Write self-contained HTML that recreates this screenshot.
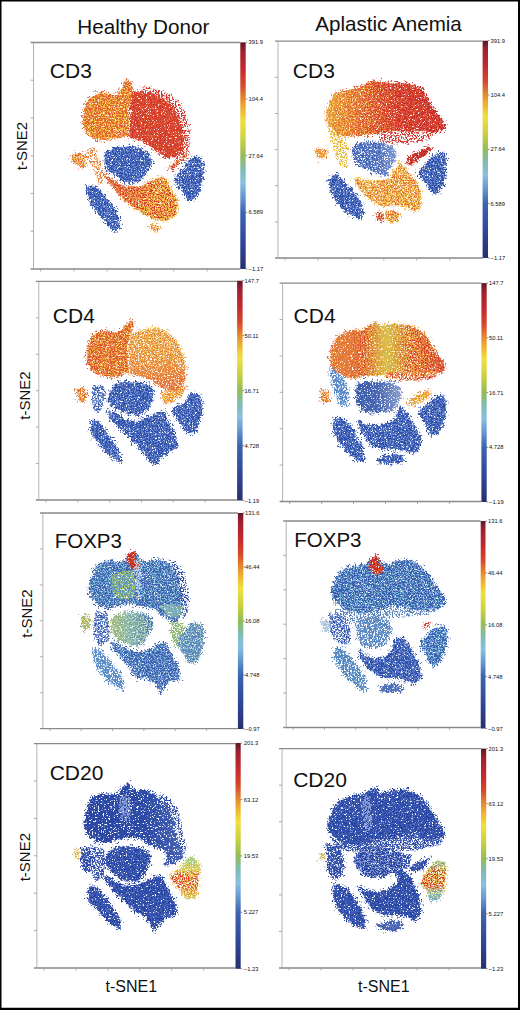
<!DOCTYPE html>
<html><head><meta charset="utf-8"><style>
html,body{margin:0;padding:0;background:#fff;}
body{width:520px;height:1010px;overflow:hidden;position:relative;}
svg{position:absolute;left:0;top:0;display:block;}
text{font-family:"Liberation Sans",sans-serif;fill:#111;}
</style></head><body>
<svg width="520" height="1010" viewBox="0 0 520 1010">
<defs>
<linearGradient id="cbar" x1="0" y1="1" x2="0" y2="0">
<stop offset="0" stop-color="#27306e"/>
<stop offset="0.12" stop-color="#2f4699"/>
<stop offset="0.25" stop-color="#3c64b0"/>
<stop offset="0.32" stop-color="#6898d0"/>
<stop offset="0.38" stop-color="#88c0e0"/>
<stop offset="0.44" stop-color="#80bcb4"/>
<stop offset="0.50" stop-color="#94bc58"/>
<stop offset="0.57" stop-color="#c8d040"/>
<stop offset="0.65" stop-color="#f0e040"/>
<stop offset="0.71" stop-color="#f0b030"/>
<stop offset="0.76" stop-color="#e48030"/>
<stop offset="0.81" stop-color="#d6482c"/>
<stop offset="0.88" stop-color="#c42a2e"/>
<stop offset="0.96" stop-color="#a02030"/>
<stop offset="1" stop-color="#5c1828"/>
</linearGradient>
<filter id="fD" x="0" y="0" width="520" height="1010" filterUnits="userSpaceOnUse" color-interpolation-filters="sRGB">
<feTurbulence type="fractalNoise" baseFrequency="0.3" numOctaves="2" seed="3" result="w"/>
<feDisplacementMap in="SourceGraphic" in2="w" scale="6" xChannelSelector="R" yChannelSelector="G" result="d"/>
<feTurbulence type="fractalNoise" baseFrequency="0.65" numOctaves="2" seed="11" result="n"/>
<feColorMatrix in="n" type="matrix" values="0 0 0 0 0  0 0 0 0 0  0 0 0 0 0  10 0 0 0 -3.3" result="m"/>
<feComposite in="d" in2="m" operator="in" result="c"/>
<feGaussianBlur in="c" stdDeviation="0.5"/>
</filter>
<filter id="fS" x="0" y="0" width="520" height="1010" filterUnits="userSpaceOnUse" color-interpolation-filters="sRGB">
<feTurbulence type="fractalNoise" baseFrequency="0.3" numOctaves="2" seed="5" result="w"/>
<feDisplacementMap in="SourceGraphic" in2="w" scale="6" xChannelSelector="R" yChannelSelector="G" result="d"/>
<feTurbulence type="fractalNoise" baseFrequency="0.65" numOctaves="2" seed="13" result="n"/>
<feColorMatrix in="n" type="matrix" values="0 0 0 0 0  0 0 0 0 0  0 0 0 0 0  10 0 0 0 -4.2" result="m"/>
<feComposite in="d" in2="m" operator="in" result="c"/>
<feGaussianBlur in="c" stdDeviation="0.5"/>
</filter>
<filter id="fH" x="0" y="0" width="520" height="1010" filterUnits="userSpaceOnUse" color-interpolation-filters="sRGB">
<feTurbulence type="fractalNoise" baseFrequency="0.3" numOctaves="2" seed="7" result="w"/>
<feDisplacementMap in="SourceGraphic" in2="w" scale="8" xChannelSelector="R" yChannelSelector="G" result="d"/>
<feTurbulence type="fractalNoise" baseFrequency="0.65" numOctaves="2" seed="17" result="n"/>
<feColorMatrix in="n" type="matrix" values="0 0 0 0 0  0 0 0 0 0  0 0 0 0 0  10 0 0 0 -5.2" result="m"/>
<feComposite in="d" in2="m" operator="in" result="c"/>
<feGaussianBlur in="c" stdDeviation="0.5"/>
</filter>
<filter id="fX" x="0" y="0" width="520" height="1010" filterUnits="userSpaceOnUse" color-interpolation-filters="sRGB">
<feTurbulence type="fractalNoise" baseFrequency="0.7" numOctaves="2" seed="23" result="n"/>
<feColorMatrix in="n" type="matrix" values="0 0 0 0 0  0 0 0 0 0  0 0 0 0 0  10 0 0 0 -5.0" result="m"/>
<feComposite in="SourceGraphic" in2="m" operator="in" result="c"/>
<feGaussianBlur in="c" stdDeviation="0.3"/>
</filter>
<filter id="fV" x="0" y="0" width="520" height="1010" filterUnits="userSpaceOnUse" color-interpolation-filters="sRGB">
<feTurbulence type="fractalNoise" baseFrequency="0.3" numOctaves="2" seed="9" result="w"/>
<feDisplacementMap in="SourceGraphic" in2="w" scale="6" xChannelSelector="R" yChannelSelector="G" result="d"/>
<feTurbulence type="fractalNoise" baseFrequency="0.65" numOctaves="2" seed="19" result="n"/>
<feColorMatrix in="n" type="matrix" values="0 0 0 0 0  0 0 0 0 0  0 0 0 0 0  10 0 0 0 -4.7" result="m"/>
<feComposite in="d" in2="m" operator="in" result="c"/>
<feGaussianBlur in="c" stdDeviation="0.5"/>
</filter>

<linearGradient id="g7s" gradientUnits="userSpaceOnUse" x1="0" y1="856" x2="0" y2="900"><stop offset="0" stop-color="#70c0a8"/><stop offset="0.3" stop-color="#c8d058"/><stop offset="0.45" stop-color="#d83a30"/><stop offset="0.65" stop-color="#d84030"/><stop offset="0.85" stop-color="#e0a040"/><stop offset="1" stop-color="#a8c070"/></linearGradient>
<linearGradient id="g8s" gradientUnits="userSpaceOnUse" x1="0" y1="860" x2="0" y2="902"><stop offset="0" stop-color="#70c0b0"/><stop offset="0.3" stop-color="#d04030"/><stop offset="0.6" stop-color="#d83a30"/><stop offset="0.8" stop-color="#70b8c0"/><stop offset="1" stop-color="#6088c8"/></linearGradient>
<linearGradient id="g4s" gradientUnits="userSpaceOnUse" x1="328" y1="0" x2="446" y2="0"><stop offset="0" stop-color="#f0c040"/><stop offset="0.3" stop-color="#d84030"/><stop offset="0.5" stop-color="#c8cc50"/><stop offset="0.7" stop-color="#d84030"/><stop offset="1" stop-color="#d23a2e"/></linearGradient>
<linearGradient id="g2s" gradientUnits="userSpaceOnUse" x1="325" y1="0" x2="446" y2="0"><stop offset="0" stop-color="#f2c440"/><stop offset="0.35" stop-color="#eea040"/><stop offset="0.6" stop-color="#e2643a"/><stop offset="1" stop-color="#dc5038"/></linearGradient>
<linearGradient id="g1" gradientUnits="userSpaceOnUse" x1="103" y1="175" x2="179" y2="215"><stop offset="0" stop-color="#e0603a"/><stop offset="0.35" stop-color="#e88a3c"/><stop offset="0.6" stop-color="#eeb444"/><stop offset="1" stop-color="#eebc48"/></linearGradient>
<linearGradient id="g5" gradientUnits="userSpaceOnUse" x1="110" y1="0" x2="154" y2="0"><stop offset="0" stop-color="#a8b868"/><stop offset="0.5" stop-color="#78a8b0"/><stop offset="1" stop-color="#4a70b4"/></linearGradient>
<linearGradient id="g2" gradientUnits="userSpaceOnUse" x1="325" y1="0" x2="446" y2="0"><stop offset="0" stop-color="#ea9440"/><stop offset="0.2" stop-color="#e47034"/><stop offset="0.42" stop-color="#d84630"/><stop offset="0.6" stop-color="#cf322c"/><stop offset="1" stop-color="#c62a2a"/></linearGradient>
<linearGradient id="g2b" gradientUnits="userSpaceOnUse" x1="351" y1="0" x2="397" y2="0"><stop offset="0" stop-color="#3c5cb0"/><stop offset="0.6" stop-color="#4464b4"/><stop offset="1" stop-color="#90a4d0"/></linearGradient>
<linearGradient id="g3" gradientUnits="userSpaceOnUse" x1="0" y1="328" x2="0" y2="392"><stop offset="0" stop-color="#eec456"/><stop offset="0.45" stop-color="#edac4a"/><stop offset="0.8" stop-color="#e57c3c"/><stop offset="1" stop-color="#dc5a36"/></linearGradient>
<linearGradient id="g4" gradientUnits="userSpaceOnUse" x1="328" y1="0" x2="446" y2="0"><stop offset="0" stop-color="#e26438"/><stop offset="0.25" stop-color="#e6843c"/><stop offset="0.45" stop-color="#e8b444"/><stop offset="0.6" stop-color="#e6b444"/><stop offset="0.8" stop-color="#e8903e"/><stop offset="1" stop-color="#e0683a"/></linearGradient>
<linearGradient id="g4b" gradientUnits="userSpaceOnUse" x1="355" y1="0" x2="402" y2="0"><stop offset="0" stop-color="#3a5aac"/><stop offset="0.5" stop-color="#4a68b2"/><stop offset="1" stop-color="#8ea2d0"/></linearGradient>
<linearGradient id="g7" gradientUnits="userSpaceOnUse" x1="0" y1="856" x2="0" y2="900"><stop offset="0" stop-color="#b8d070"/><stop offset="0.3" stop-color="#e8c850"/><stop offset="0.55" stop-color="#ecb048"/><stop offset="0.8" stop-color="#ecc050"/><stop offset="1" stop-color="#d8c860"/></linearGradient>
<linearGradient id="g7a" gradientUnits="userSpaceOnUse" x1="83" y1="0" x2="185" y2="0"><stop offset="0" stop-color="#2a46a4"/><stop offset="0.6" stop-color="#2c4aa6"/><stop offset="1" stop-color="#4864b4"/></linearGradient>
<linearGradient id="g8" gradientUnits="userSpaceOnUse" x1="0" y1="860" x2="0" y2="902"><stop offset="0" stop-color="#a8cc80"/><stop offset="0.3" stop-color="#d8cc58"/><stop offset="0.55" stop-color="#eab048"/><stop offset="0.8" stop-color="#b8c878"/><stop offset="1" stop-color="#80b0d0"/></linearGradient>
</defs>
<rect x="0" y="0" width="520" height="1010" fill="#fff"/>

<path d="M0,0H520V1010H0Z M1.5,1.6V1007.7H518V1.6Z" fill="#000" fill-rule="evenodd"/>
<text x="77.2" y="33.8" font-size="20.7">Healthy Donor</text>
<text x="315.3" y="31.3" font-size="20.6">Aplastic Anemia</text>
<g filter="url(#fH)">
<path d="M90.4,98 96.4,94.3 103.7,93 111,95.3 116.8,96 121.5,88.9 124.5,81.4 129.4,80.8 132.3,86.7 131.2,95.6 128,110 129.2,124.5 127.4,135.7 118.4,137.3 111.1,138.7 103.6,140.2 96.2,138.8 88.7,135 85.8,130.5 83.6,124.6 82.9,117.2 84.5,109.8 86.9,102.4Z" fill="#e2642f" stroke="#e2642f" stroke-width="4" stroke-linejoin="round"/>
<path d="M131.6,91.8 140.4,90.9 148.3,92.5 158,95 166.7,100.9 173.3,108.7 178.1,118.3 181,127.9 183.1,139 182.8,149.3 180.4,155.2 175.5,156.1 166.2,157.5 156.1,151 145.6,142.2 134.9,139 128.9,136.2 131,125 129.9,110.5Z" fill="#d23a30" stroke="#d23a30" stroke-width="4" stroke-linejoin="round"/>
<path d="M105.9,152.8 110.4,149.8 119.2,147.1 129.5,146.4 139.8,148.5 150.3,155.7 151.7,163.1 147.1,170.5 142.7,177.8 136.8,182.1 126.5,182.8 120.8,179.1 116.5,174.7 107.5,170.5 104.5,163.1Z" fill="#3050aa" stroke="#3050aa" stroke-width="4" stroke-linejoin="round"/>
<path d="M192.6,157.9 198.4,157.8 202.8,163.7 202.5,178.4 199.8,190 194,199 188.2,200.5 182.4,190 175.2,181.2 176.8,175.5 184.1,168.5 189.7,161Z" fill="#3050aa" stroke="#3050aa" stroke-width="4" stroke-linejoin="round"/>
<path d="M87.1,186.2 96.1,187.1 103.5,194.8 108.9,202.2 114.8,209.1 117.9,216.5 120.4,227.2 115.3,230.6 107.8,225 102.1,217.5 96.7,210.4 90.5,201.9 87.2,191.5Z" fill="#3050aa" stroke="#3050aa" stroke-width="4" stroke-linejoin="round"/>
<path d="M103.9,174.4 110.9,179.4 118.9,183.9 126.9,186.9 134.8,187.1 141.3,186 149.6,181.9 157.3,178.3 162.3,177.2 166.2,179.5 169,186.3 175,196.9 178,204.7 175.5,215.4 167,220.4 159.5,220.1 151.7,218.6 144.9,214.5 136.4,209.6 128.8,203.5 121,195.9 113,187.2 106.9,178.4Z" fill="url(#g1)" stroke="url(#g1)" stroke-width="4" stroke-linejoin="round"/>
<path d="M70.9,156.4 76.4,153.4 83.4,153.8 86,158.3 85.2,165.4 81.7,168.1 76.5,165.1 72,160.9Z" fill="#e06a3a" stroke="#e06a3a" stroke-width="4" stroke-linejoin="round"/>
<path d="M168.8,167.5 176,161 184.4,154.8 188.2,153.2 187.1,156.5 180,163 171.6,170.2Z" fill="#d23a30" stroke="#d23a30" stroke-width="4" stroke-linejoin="round"/>
<path d="M150.9,225.5 156.6,224.4 159,228 156.6,231.6 151.8,230.4Z" fill="#eeb04a" stroke="#eeb04a" stroke-width="4" stroke-linejoin="round"/>
</g>
<g filter="url(#fV)">
<path d="M138.8,86.6 150.6,86.8 162.4,89.9 173,96 181.4,104.8 186,115.1 189.2,126.4 190.4,139.2 188.6,151.1 184.7,157 180.8,151 181.5,129.1 175.4,112.8 165.4,98.9 150.7,92.7Z" fill="#d23a30"/>
<path d="M86.5,148.9 95.1,147 100.4,160.8 104.3,173.3 103.6,183.1 98.9,185 93.5,171.1 88.8,160.6Z" fill="#e88a40"/>
</g>
<g filter="url(#fS)">
<path d="M70.9,156.4 76.4,153.4 83.4,153.8 86,158.3 85.2,165.4 81.7,168.1 76.5,165.1 72,160.9Z" fill="#e06a3a"/>
<path d="M168.8,167.5 176,161 184.4,154.8 188.2,153.2 187.1,156.5 180,163 171.6,170.2Z" fill="#d23a30"/>
<path d="M150.9,225.5 156.6,224.4 159,228 156.6,231.6 151.8,230.4Z" fill="#eeb04a"/>
</g>
<g filter="url(#fD)">
<path d="M90.4,98 96.4,94.3 103.7,93 111,95.3 116.8,96 121.5,88.9 124.5,81.4 129.4,80.8 132.3,86.7 131.2,95.6 128,110 129.2,124.5 127.4,135.7 118.4,137.3 111.1,138.7 103.6,140.2 96.2,138.8 88.7,135 85.8,130.5 83.6,124.6 82.9,117.2 84.5,109.8 86.9,102.4Z" fill="#e2642f"/>
<path d="M131.6,91.8 140.4,90.9 148.3,92.5 158,95 166.7,100.9 173.3,108.7 178.1,118.3 181,127.9 183.1,139 182.8,149.3 180.4,155.2 175.5,156.1 166.2,157.5 156.1,151 145.6,142.2 134.9,139 128.9,136.2 131,125 129.9,110.5Z" fill="#d23a30"/>
<path d="M105.9,152.8 110.4,149.8 119.2,147.1 129.5,146.4 139.8,148.5 150.3,155.7 151.7,163.1 147.1,170.5 142.7,177.8 136.8,182.1 126.5,182.8 120.8,179.1 116.5,174.7 107.5,170.5 104.5,163.1Z" fill="#3050aa"/>
<path d="M192.6,157.9 198.4,157.8 202.8,163.7 202.5,178.4 199.8,190 194,199 188.2,200.5 182.4,190 175.2,181.2 176.8,175.5 184.1,168.5 189.7,161Z" fill="#3050aa"/>
<path d="M87.1,186.2 96.1,187.1 103.5,194.8 108.9,202.2 114.8,209.1 117.9,216.5 120.4,227.2 115.3,230.6 107.8,225 102.1,217.5 96.7,210.4 90.5,201.9 87.2,191.5Z" fill="#3050aa"/>
<path d="M103.9,174.4 110.9,179.4 118.9,183.9 126.9,186.9 134.8,187.1 141.3,186 149.6,181.9 157.3,178.3 162.3,177.2 166.2,179.5 169,186.3 175,196.9 178,204.7 175.5,215.4 167,220.4 159.5,220.1 151.7,218.6 144.9,214.5 136.4,209.6 128.8,203.5 121,195.9 113,187.2 106.9,178.4Z" fill="url(#g1)"/>
</g>
<g filter="url(#fX)">
<path d="M90.4,98 96.4,94.3 103.7,93 111,95.3 116.8,96 121.5,88.9 124.5,81.4 129.4,80.8 132.3,86.7 131.2,95.6 128,110 129.2,124.5 127.4,135.7 118.4,137.3 111.1,138.7 103.6,140.2 96.2,138.8 88.7,135 85.8,130.5 83.6,124.6 82.9,117.2 84.5,109.8 86.9,102.4Z" fill="#f2c040"/>
<path d="M131.6,91.8 140.4,90.9 148.3,92.5 158,95 166.7,100.9 173.3,108.7 178.1,118.3 181,127.9 183.1,139 182.8,149.3 180.4,155.2 175.5,156.1 166.2,157.5 156.1,151 145.6,142.2 134.9,139 128.9,136.2 131,125 129.9,110.5Z" fill="#e05a30"/>
<path d="M105.9,152.8 110.4,149.8 119.2,147.1 129.5,146.4 139.8,148.5 150.3,155.7 151.7,163.1 147.1,170.5 142.7,177.8 136.8,182.1 126.5,182.8 120.8,179.1 116.5,174.7 107.5,170.5 104.5,163.1Z" fill="#6888d0"/>
<path d="M192.6,157.9 198.4,157.8 202.8,163.7 202.5,178.4 199.8,190 194,199 188.2,200.5 182.4,190 175.2,181.2 176.8,175.5 184.1,168.5 189.7,161Z" fill="#6888d0"/>
<path d="M87.1,186.2 96.1,187.1 103.5,194.8 108.9,202.2 114.8,209.1 117.9,216.5 120.4,227.2 115.3,230.6 107.8,225 102.1,217.5 96.7,210.4 90.5,201.9 87.2,191.5Z" fill="#6888d0"/>
<path d="M103.9,174.4 110.9,179.4 118.9,183.9 126.9,186.9 134.8,187.1 141.3,186 149.6,181.9 157.3,178.3 162.3,177.2 166.2,179.5 169,186.3 175,196.9 178,204.7 175.5,215.4 167,220.4 159.5,220.1 151.7,218.6 144.9,214.5 136.4,209.6 128.8,203.5 121,195.9 113,187.2 106.9,178.4Z" fill="#d84030"/>
<path d="M70.9,156.4 76.4,153.4 83.4,153.8 86,158.3 85.2,165.4 81.7,168.1 76.5,165.1 72,160.9Z" fill="#f2c040"/>
<path d="M168.8,167.5 176,161 184.4,154.8 188.2,153.2 187.1,156.5 180,163 171.6,170.2Z" fill="#ea8a3a"/>
<path d="M150.9,225.5 156.6,224.4 159,228 156.6,231.6 151.8,230.4Z" fill="#e46a34"/>
</g>
<path d="M33.5,42.5V269" stroke="#b4b4b4" stroke-width="1" fill="none"/>
<path d="M30.5,42.5H240.3 M30.5,269H240.3" stroke="#8a8a8a" stroke-width="1.3" fill="none"/>
<path d="M30.5,80.2H33.5M30.5,118H33.5M30.5,155.8H33.5M30.5,193.5H33.5M30.5,231.2H33.5M40.5,269V271.5M73.8,269V271.5M107.1,269V271.5M140.4,269V271.5M173.7,269V271.5M207,269V271.5" stroke="#999" stroke-width="0.8" fill="none"/>
<rect x="240.3" y="42.4" width="5.4" height="226.6" fill="url(#cbar)"/>
<text x="248.5" y="44.4" font-size="5.8" fill="#222">391.9</text>
<path d="M245.7,42.4H247.2" stroke="#333" stroke-width="0.6"/>
<text x="248.5" y="101" font-size="5.8" fill="#222">104.4</text>
<path d="M245.7,99H247.2" stroke="#333" stroke-width="0.6"/>
<text x="248.5" y="157.7" font-size="5.8" fill="#222">27.64</text>
<path d="M245.7,155.7H247.2" stroke="#333" stroke-width="0.6"/>
<text x="248.5" y="214.3" font-size="5.8" fill="#222">6.589</text>
<path d="M245.7,212.3H247.2" stroke="#333" stroke-width="0.6"/>
<text x="248.5" y="271" font-size="5.8" fill="#222">−1.17</text>
<path d="M245.7,269H247.2" stroke="#333" stroke-width="0.6"/>
<text x="49.8" y="78.3" font-size="21">CD3</text>
<g filter="url(#fH)">
<path d="M331,99.8 334,95.3 341.7,91.6 350.8,89.4 359.9,87.2 369,82.8 374.9,80.6 383.8,82.2 392,83.3 402.6,83.1 413.1,84.5 420.7,89 425.3,95 429.8,102.5 434.4,110 439,116.1 443.6,122.1 445.2,126.7 442.1,130.5 437.6,132.1 431.4,132.6 425.3,130.6 410,131.9 394.9,131.1 384.6,132 376.5,134.1 367.5,134.2 357,135.4 346.2,136 338.6,135.1 335.5,131.5 331,127 327.9,122.5 326.4,116.4 327.9,108.9Z" fill="url(#g2)" stroke="url(#g2)" stroke-width="4" stroke-linejoin="round"/>
<path d="M354,146.2 361.5,142.6 371.8,142.2 383.3,143.6 389.3,144.9 394.1,148.4 396,155.1 393,162.7 388.3,169.3 386.4,175.6 379,174 371.8,170.9 363.1,168.2 357.2,162.4 352.5,153.7Z" fill="url(#g2b)" stroke="url(#g2b)" stroke-width="4" stroke-linejoin="round"/>
<path d="M438.3,152.9 444.1,152.8 446.2,158.8 445.2,173.4 442.5,185 438.3,192.5 432.4,192.5 426.7,183.4 421,176.2 417.9,171.9 424,166.3 431,157.5Z" fill="#3050aa" stroke="#3050aa" stroke-width="4" stroke-linejoin="round"/>
<path d="M332,175.8 336.6,175.1 343.9,182.2 351,189.6 356.7,196.6 361.4,203.8 363,211.3 361.4,217.7 354.6,217.1 346.8,212.5 341.3,206.4 335.6,199.4 330.9,190.8 329.2,181.9Z" fill="#3050aa" stroke="#3050aa" stroke-width="4" stroke-linejoin="round"/>
<path d="M354.1,178.4 361.8,179.9 372.4,181.6 383,180.3 390.1,179.1 393.8,171 399.7,163.6 404.1,166.7 410,174.1 417.5,184.4 420.5,193.4 420.4,200.6 420.4,206.6 415.4,211.6 405.1,206.3 391.8,204.4 385.3,207 375.3,203 369.4,199.2 363.3,193.3 357.2,184.3Z" fill="#efbc48" stroke="#efbc48" stroke-width="4" stroke-linejoin="round"/>
<path d="M315.8,149.6 321,148.5 326.1,151.4 325.2,157.4 320.1,159 316.9,155.6Z" fill="#ec8a3c" stroke="#ec8a3c" stroke-width="4" stroke-linejoin="round"/>
<path d="M408,157.8 418,152 428.3,147.2 431.1,148.5 427,153.3 418.1,160 409.7,165.3 406.9,162.5Z" fill="#d23a30" stroke="#d23a30" stroke-width="4" stroke-linejoin="round"/>
<path d="M375.6,215.3 380,213 384.1,214.5 383.2,219.3 377.6,220.2Z" fill="#d23a30" stroke="#d23a30" stroke-width="4" stroke-linejoin="round"/>
<path d="M385.8,211.6 392.8,210.5 399.1,213.4 398.2,220.4 390.3,222 385.9,218.6Z" fill="#eeb04a" stroke="#eeb04a" stroke-width="4" stroke-linejoin="round"/>
</g>
<g filter="url(#fV)">
<path d="M379,133.2 435,132.2 429,140 409.2,143.4 390.9,144.6 379,140.9Z" fill="#d23a30"/>
<path d="M330.3,119 338,126 345.4,135.8 348.1,149.5 347.6,167.1 341.9,169 336.2,159 332,144.9 327.6,130.8Z" fill="#e6b83a"/>
</g>
<g filter="url(#fS)">
<path d="M354,146.2 361.5,142.6 371.8,142.2 383.3,143.6 389.3,144.9 394.1,148.4 396,155.1 393,162.7 388.3,169.3 386.4,175.6 379,174 371.8,170.9 363.1,168.2 357.2,162.4 352.5,153.7Z" fill="url(#g2b)"/>
<path d="M354.1,178.4 361.8,179.9 372.4,181.6 383,180.3 390.1,179.1 393.8,171 399.7,163.6 404.1,166.7 410,174.1 417.5,184.4 420.5,193.4 420.4,200.6 420.4,206.6 415.4,211.6 405.1,206.3 391.8,204.4 385.3,207 375.3,203 369.4,199.2 363.3,193.3 357.2,184.3Z" fill="#efbc48"/>
<path d="M315.8,149.6 321,148.5 326.1,151.4 325.2,157.4 320.1,159 316.9,155.6Z" fill="#ec8a3c"/>
<path d="M375.6,215.3 380,213 384.1,214.5 383.2,219.3 377.6,220.2Z" fill="#d23a30"/>
<path d="M385.8,211.6 392.8,210.5 399.1,213.4 398.2,220.4 390.3,222 385.9,218.6Z" fill="#eeb04a"/>
</g>
<g filter="url(#fD)">
<path d="M331,99.8 334,95.3 341.7,91.6 350.8,89.4 359.9,87.2 369,82.8 374.9,80.6 383.8,82.2 392,83.3 402.6,83.1 413.1,84.5 420.7,89 425.3,95 429.8,102.5 434.4,110 439,116.1 443.6,122.1 445.2,126.7 442.1,130.5 437.6,132.1 431.4,132.6 425.3,130.6 410,131.9 394.9,131.1 384.6,132 376.5,134.1 367.5,134.2 357,135.4 346.2,136 338.6,135.1 335.5,131.5 331,127 327.9,122.5 326.4,116.4 327.9,108.9Z" fill="url(#g2)"/>
<path d="M438.3,152.9 444.1,152.8 446.2,158.8 445.2,173.4 442.5,185 438.3,192.5 432.4,192.5 426.7,183.4 421,176.2 417.9,171.9 424,166.3 431,157.5Z" fill="#3050aa"/>
<path d="M332,175.8 336.6,175.1 343.9,182.2 351,189.6 356.7,196.6 361.4,203.8 363,211.3 361.4,217.7 354.6,217.1 346.8,212.5 341.3,206.4 335.6,199.4 330.9,190.8 329.2,181.9Z" fill="#3050aa"/>
<path d="M408,157.8 418,152 428.3,147.2 431.1,148.5 427,153.3 418.1,160 409.7,165.3 406.9,162.5Z" fill="#d23a30"/>
</g>
<g filter="url(#fX)">
<path d="M331,99.8 334,95.3 341.7,91.6 350.8,89.4 359.9,87.2 369,82.8 374.9,80.6 383.8,82.2 392,83.3 402.6,83.1 413.1,84.5 420.7,89 425.3,95 429.8,102.5 434.4,110 439,116.1 443.6,122.1 445.2,126.7 442.1,130.5 437.6,132.1 431.4,132.6 425.3,130.6 410,131.9 394.9,131.1 384.6,132 376.5,134.1 367.5,134.2 357,135.4 346.2,136 338.6,135.1 335.5,131.5 331,127 327.9,122.5 326.4,116.4 327.9,108.9Z" fill="url(#g2s)"/>
<path d="M354,146.2 361.5,142.6 371.8,142.2 383.3,143.6 389.3,144.9 394.1,148.4 396,155.1 393,162.7 388.3,169.3 386.4,175.6 379,174 371.8,170.9 363.1,168.2 357.2,162.4 352.5,153.7Z" fill="#6888d0"/>
<path d="M438.3,152.9 444.1,152.8 446.2,158.8 445.2,173.4 442.5,185 438.3,192.5 432.4,192.5 426.7,183.4 421,176.2 417.9,171.9 424,166.3 431,157.5Z" fill="#6888d0"/>
<path d="M332,175.8 336.6,175.1 343.9,182.2 351,189.6 356.7,196.6 361.4,203.8 363,211.3 361.4,217.7 354.6,217.1 346.8,212.5 341.3,206.4 335.6,199.4 330.9,190.8 329.2,181.9Z" fill="#6888d0"/>
<path d="M354.1,178.4 361.8,179.9 372.4,181.6 383,180.3 390.1,179.1 393.8,171 399.7,163.6 404.1,166.7 410,174.1 417.5,184.4 420.5,193.4 420.4,200.6 420.4,206.6 415.4,211.6 405.1,206.3 391.8,204.4 385.3,207 375.3,203 369.4,199.2 363.3,193.3 357.2,184.3Z" fill="#e47234"/>
<path d="M315.8,149.6 321,148.5 326.1,151.4 325.2,157.4 320.1,159 316.9,155.6Z" fill="#f2c040"/>
<path d="M408,157.8 418,152 428.3,147.2 431.1,148.5 427,153.3 418.1,160 409.7,165.3 406.9,162.5Z" fill="#b82828"/>
<path d="M375.6,215.3 380,213 384.1,214.5 383.2,219.3 377.6,220.2Z" fill="#ea8a3a"/>
<path d="M385.8,211.6 392.8,210.5 399.1,213.4 398.2,220.4 390.3,222 385.9,218.6Z" fill="#e46a34"/>
</g>
<path d="M278,41.2V258" stroke="#b4b4b4" stroke-width="1" fill="none"/>
<path d="M275,41.2H482.6 M275,258H482.6" stroke="#8a8a8a" stroke-width="1.3" fill="none"/>
<path d="M275,77.3H278M275,113.5H278M275,149.6H278M275,185.7H278M275,221.9H278M285,258V260.5M317.9,258V260.5M350.9,258V260.5M383.8,258V260.5M416.7,258V260.5M449.7,258V260.5" stroke="#999" stroke-width="0.8" fill="none"/>
<rect x="482.6" y="40.7" width="5.4" height="217.3" fill="url(#cbar)"/>
<text x="490.5" y="42.7" font-size="5.8" fill="#222">391.9</text>
<path d="M488,40.7H489.5" stroke="#333" stroke-width="0.6"/>
<text x="490.5" y="97" font-size="5.8" fill="#222">104.4</text>
<path d="M488,95H489.5" stroke="#333" stroke-width="0.6"/>
<text x="490.5" y="151.4" font-size="5.8" fill="#222">27.64</text>
<path d="M488,149.4H489.5" stroke="#333" stroke-width="0.6"/>
<text x="490.5" y="205.7" font-size="5.8" fill="#222">6.589</text>
<path d="M488,203.7H489.5" stroke="#333" stroke-width="0.6"/>
<text x="490.5" y="260" font-size="5.8" fill="#222">−1.17</text>
<path d="M488,258H489.5" stroke="#333" stroke-width="0.6"/>
<text x="292.8" y="78.3" font-size="21">CD3</text>
<g filter="url(#fH)">
<path d="M94.3,334.1 101.7,331.3 109,331.4 116.3,332.9 122.2,329.7 126.8,323.6 131.3,320.4 133.3,324.8 130.2,333.7 127,345.3 127.2,359.4 129.4,373.2 125.3,372.6 119.3,375.5 110.5,377.1 103,375.6 95.6,372.7 89.6,366.7 86.7,359.2 86.8,350.4 89.8,343Z" fill="#de5a30" stroke="#de5a30" stroke-width="4" stroke-linejoin="round"/>
<path d="M131.7,333.7 135.6,332.7 144.6,329.7 155.1,328.3 162.6,329.8 170,334.4 175.9,340.4 180.3,349.3 183.2,359.6 184.8,368.5 184.9,376 183.5,383.5 179,389.6 173.1,391 165.6,389.4 158.1,384.8 150.8,380.3 144.8,377.3 135.9,374.5 130.9,373.6 129,360 128.9,345.5Z" fill="url(#g3)" stroke="url(#g3)" stroke-width="4" stroke-linejoin="round"/>
<path d="M114.3,384.8 126.2,382.1 139.2,382.8 148,384.8 152.6,390.3 152.5,395.1 150.9,403.9 145.1,411.2 139.2,415.1 133.4,414 121.8,411.1 111.3,405.5 108.3,398.1 111.3,390.7Z" fill="#3050aa" stroke="#3050aa" stroke-width="4" stroke-linejoin="round"/>
<path d="M108.2,410.9 114.4,412.4 125.1,420.1 137.2,421.9 147.4,417.5 157.7,412.8 163.6,411.2 166.6,415.7 167.9,421.7 172.5,428.9 175.5,436.4 177.2,443.8 176.4,447.5 168.9,452.3 159.6,457.9 157.8,463.6 150.3,461.7 143,452 137.2,445.1 128.3,436.3 119.1,427.5 109.7,416.9Z" fill="#3050aa" stroke="#3050aa" stroke-width="4" stroke-linejoin="round"/>
<path d="M91,420.4 96.9,420.5 102.8,426.8 109.5,437 115.6,445.4 118.9,454.3 120.9,461.9 113.4,457.9 104.2,450.2 97.5,441.3 92.9,436.8 91.1,428Z" fill="#3050aa" stroke="#3050aa" stroke-width="4" stroke-linejoin="round"/>
<path d="M190.3,394.5 196.1,393.6 200.6,397.3 201.8,406.2 200.3,417.7 197.6,426.5 193.3,432.5 187.3,433.2 183,426.4 178.8,420.5 174.5,414.8 172.9,409 177.4,406.3 184.6,403.6 187.4,397.5Z" fill="#3050aa" stroke="#3050aa" stroke-width="4" stroke-linejoin="round"/>
<path d="M76.7,389.7 81.1,387.5 85.4,389.8 86,395.8 84.6,401.1 80.2,402 77.9,396.6Z" fill="#e06a3a" stroke="#e06a3a" stroke-width="4" stroke-linejoin="round"/>
<path d="M163,392.3 174.6,389.9 185.1,387.5 183,393.2 172,401 165.6,403.2 161.9,398.7Z" fill="#ec8a3c" stroke="#ec8a3c" stroke-width="4" stroke-linejoin="round"/>
</g>
<g filter="url(#fV)">
<path d="M92.4,384.9 103.6,385.9 106.2,394.5 103.4,405.2 99,413 93.4,411.1 92,399.9Z" fill="#3050aa"/>
</g>
<g filter="url(#fS)">
<path d="M131.7,333.7 135.6,332.7 144.6,329.7 155.1,328.3 162.6,329.8 170,334.4 175.9,340.4 180.3,349.3 183.2,359.6 184.8,368.5 184.9,376 183.5,383.5 179,389.6 173.1,391 165.6,389.4 158.1,384.8 150.8,380.3 144.8,377.3 135.9,374.5 130.9,373.6 129,360 128.9,345.5Z" fill="url(#g3)"/>
<path d="M76.7,389.7 81.1,387.5 85.4,389.8 86,395.8 84.6,401.1 80.2,402 77.9,396.6Z" fill="#e06a3a"/>
<path d="M163,392.3 174.6,389.9 185.1,387.5 183,393.2 172,401 165.6,403.2 161.9,398.7Z" fill="#ec8a3c"/>
</g>
<g filter="url(#fD)">
<path d="M94.3,334.1 101.7,331.3 109,331.4 116.3,332.9 122.2,329.7 126.8,323.6 131.3,320.4 133.3,324.8 130.2,333.7 127,345.3 127.2,359.4 129.4,373.2 125.3,372.6 119.3,375.5 110.5,377.1 103,375.6 95.6,372.7 89.6,366.7 86.7,359.2 86.8,350.4 89.8,343Z" fill="#de5a30"/>
<path d="M114.3,384.8 126.2,382.1 139.2,382.8 148,384.8 152.6,390.3 152.5,395.1 150.9,403.9 145.1,411.2 139.2,415.1 133.4,414 121.8,411.1 111.3,405.5 108.3,398.1 111.3,390.7Z" fill="#3050aa"/>
<path d="M108.2,410.9 114.4,412.4 125.1,420.1 137.2,421.9 147.4,417.5 157.7,412.8 163.6,411.2 166.6,415.7 167.9,421.7 172.5,428.9 175.5,436.4 177.2,443.8 176.4,447.5 168.9,452.3 159.6,457.9 157.8,463.6 150.3,461.7 143,452 137.2,445.1 128.3,436.3 119.1,427.5 109.7,416.9Z" fill="#3050aa"/>
<path d="M91,420.4 96.9,420.5 102.8,426.8 109.5,437 115.6,445.4 118.9,454.3 120.9,461.9 113.4,457.9 104.2,450.2 97.5,441.3 92.9,436.8 91.1,428Z" fill="#3050aa"/>
<path d="M190.3,394.5 196.1,393.6 200.6,397.3 201.8,406.2 200.3,417.7 197.6,426.5 193.3,432.5 187.3,433.2 183,426.4 178.8,420.5 174.5,414.8 172.9,409 177.4,406.3 184.6,403.6 187.4,397.5Z" fill="#3050aa"/>
</g>
<g filter="url(#fX)">
<path d="M94.3,334.1 101.7,331.3 109,331.4 116.3,332.9 122.2,329.7 126.8,323.6 131.3,320.4 133.3,324.8 130.2,333.7 127,345.3 127.2,359.4 129.4,373.2 125.3,372.6 119.3,375.5 110.5,377.1 103,375.6 95.6,372.7 89.6,366.7 86.7,359.2 86.8,350.4 89.8,343Z" fill="#f0b840"/>
<path d="M131.7,333.7 135.6,332.7 144.6,329.7 155.1,328.3 162.6,329.8 170,334.4 175.9,340.4 180.3,349.3 183.2,359.6 184.8,368.5 184.9,376 183.5,383.5 179,389.6 173.1,391 165.6,389.4 158.1,384.8 150.8,380.3 144.8,377.3 135.9,374.5 130.9,373.6 129,360 128.9,345.5Z" fill="#e8843a"/>
<path d="M92.4,384.9 103.6,385.9 106.2,394.5 103.4,405.2 99,413 93.4,411.1 92,399.9Z" fill="#6888d0"/>
<path d="M114.3,384.8 126.2,382.1 139.2,382.8 148,384.8 152.6,390.3 152.5,395.1 150.9,403.9 145.1,411.2 139.2,415.1 133.4,414 121.8,411.1 111.3,405.5 108.3,398.1 111.3,390.7Z" fill="#6888d0"/>
<path d="M108.2,410.9 114.4,412.4 125.1,420.1 137.2,421.9 147.4,417.5 157.7,412.8 163.6,411.2 166.6,415.7 167.9,421.7 172.5,428.9 175.5,436.4 177.2,443.8 176.4,447.5 168.9,452.3 159.6,457.9 157.8,463.6 150.3,461.7 143,452 137.2,445.1 128.3,436.3 119.1,427.5 109.7,416.9Z" fill="#6888d0"/>
<path d="M91,420.4 96.9,420.5 102.8,426.8 109.5,437 115.6,445.4 118.9,454.3 120.9,461.9 113.4,457.9 104.2,450.2 97.5,441.3 92.9,436.8 91.1,428Z" fill="#6888d0"/>
<path d="M190.3,394.5 196.1,393.6 200.6,397.3 201.8,406.2 200.3,417.7 197.6,426.5 193.3,432.5 187.3,433.2 183,426.4 178.8,420.5 174.5,414.8 172.9,409 177.4,406.3 184.6,403.6 187.4,397.5Z" fill="#6888d0"/>
<path d="M76.7,389.7 81.1,387.5 85.4,389.8 86,395.8 84.6,401.1 80.2,402 77.9,396.6Z" fill="#f2c040"/>
<path d="M163,392.3 174.6,389.9 185.1,387.5 183,393.2 172,401 165.6,403.2 161.9,398.7Z" fill="#f2c040"/>
</g>
<path d="M38.8,281.4V500" stroke="#b4b4b4" stroke-width="1" fill="none"/>
<path d="M35.8,281.4H237.1 M35.8,500H237.1" stroke="#8a8a8a" stroke-width="1.3" fill="none"/>
<path d="M35.8,317.8H38.8M35.8,354.3H38.8M35.8,390.7H38.8M35.8,427.1H38.8M35.8,463.6H38.8M45.8,500V502.5M77.7,500V502.5M109.6,500V502.5M141.5,500V502.5M173.3,500V502.5M205.2,500V502.5" stroke="#999" stroke-width="0.8" fill="none"/>
<rect x="237.1" y="280.7" width="5.5" height="219.8" fill="url(#cbar)"/>
<text x="244.5" y="282.7" font-size="5.8" fill="#222">147.7</text>
<path d="M242.6,280.7H244.1" stroke="#333" stroke-width="0.6"/>
<text x="244.5" y="337.6" font-size="5.8" fill="#222">50.11</text>
<path d="M242.6,335.6H244.1" stroke="#333" stroke-width="0.6"/>
<text x="244.5" y="392.6" font-size="5.8" fill="#222">16.71</text>
<path d="M242.6,390.6H244.1" stroke="#333" stroke-width="0.6"/>
<text x="244.5" y="447.6" font-size="5.8" fill="#222">4.728</text>
<path d="M242.6,445.6H244.1" stroke="#333" stroke-width="0.6"/>
<text x="244.5" y="502.5" font-size="5.8" fill="#222">−1.19</text>
<path d="M242.6,500.5H244.1" stroke="#333" stroke-width="0.6"/>
<text x="52.8" y="322.5" font-size="21">CD4</text>
<g filter="url(#fH)">
<path d="M339,335.4 346.7,332.4 354.3,330.2 361.9,331.1 367.9,326.6 373.9,322.8 381.4,325.2 388.7,325.2 396.9,324.4 407.5,325 415,327.9 422.6,332.4 428.6,339.9 433.2,348.9 439.4,358 444,364 444.8,368.5 441,373.2 434.9,371.5 427.2,373.1 415,373.6 402.8,372.7 392.4,372.6 384.3,374.8 376.9,374.9 369.4,375 361.9,375.8 352.7,377.5 343.6,376 335.9,371.5 331.4,365.6 329.8,358 331.4,348.9 334.5,341.4Z" fill="url(#g4)" stroke="url(#g4)" stroke-width="4" stroke-linejoin="round"/>
<path d="M357.4,384.7 366.4,382 379.5,382.2 394.2,383.3 399.1,386.4 401,395.1 397.1,404.6 391.2,411.3 381,412 369.3,412.6 360.4,408.2 356,401 356,390.7Z" fill="url(#g4b)" stroke="url(#g4b)" stroke-width="4" stroke-linejoin="round"/>
<path d="M357.4,421.5 366.7,424.6 377.4,426.3 386.2,423.6 394.7,420.6 400.1,406.7 407.5,414.3 413.3,424.6 419.4,433.5 420.9,441 419.5,448.3 413.8,453.3 404.4,450.4 395.1,448.2 384.2,449.3 375,446.7 371.3,445.3 365.2,436.4 360.6,427.5Z" fill="#3050aa" stroke="#3050aa" stroke-width="4" stroke-linejoin="round"/>
<path d="M334.1,418.9 341.5,418.3 348.7,423.7 354.3,432.6 358.6,441 361.9,449.8 364,460.9 356.5,459.9 347.3,452 338.7,441.2 336,436.6 332.7,426.4Z" fill="#3050aa" stroke="#3050aa" stroke-width="4" stroke-linejoin="round"/>
<path d="M377.2,458.8 384.7,456.4 394.8,453.8 402.1,456.3 404,460.7 396.5,463.2 386.5,463 379.1,462.4Z" fill="#3050aa" stroke="#3050aa" stroke-width="4" stroke-linejoin="round"/>
<path d="M435.7,397.5 441.5,395.1 445.2,398.9 445.6,406.3 444.1,417.7 441.4,427.9 437.1,434 431.3,434.8 427.7,427.9 424.3,420.6 419.8,414.9 421.3,409.1 427.1,405 431.4,400.6Z" fill="#3050aa" stroke="#3050aa" stroke-width="4" stroke-linejoin="round"/>
<path d="M409,400.8 418,395 429.2,390.1 431.1,392.4 423,399.7 412.6,406.2 407.9,404.5Z" fill="#ec8a3c" stroke="#ec8a3c" stroke-width="4" stroke-linejoin="round"/>
<path d="M331.4,367.9 338.1,373 344.4,380.8 348.1,391.6 346.6,405.1 341.9,406 336.4,395.1 331.8,382.5Z" fill="#5a8ccc" stroke="#5a8ccc" stroke-width="4" stroke-linejoin="round"/>
<path d="M319.8,392.6 324.1,390.5 328.3,392.7 329.1,398.5 325.8,402 321.6,400.2Z" fill="#e06a3a" stroke="#e06a3a" stroke-width="4" stroke-linejoin="round"/>
</g>
<g filter="url(#fV)">
<path d="M386,372.2 439,371.2 435,378 419.1,380.6 400.9,380.6 386,378Z" fill="#d23a30"/>
</g>
<g filter="url(#fS)">
<path d="M409,400.8 418,395 429.2,390.1 431.1,392.4 423,399.7 412.6,406.2 407.9,404.5Z" fill="#ec8a3c"/>
<path d="M331.4,367.9 338.1,373 344.4,380.8 348.1,391.6 346.6,405.1 341.9,406 336.4,395.1 331.8,382.5Z" fill="#5a8ccc"/>
<path d="M319.8,392.6 324.1,390.5 328.3,392.7 329.1,398.5 325.8,402 321.6,400.2Z" fill="#e06a3a"/>
</g>
<g filter="url(#fD)">
<path d="M339,335.4 346.7,332.4 354.3,330.2 361.9,331.1 367.9,326.6 373.9,322.8 381.4,325.2 388.7,325.2 396.9,324.4 407.5,325 415,327.9 422.6,332.4 428.6,339.9 433.2,348.9 439.4,358 444,364 444.8,368.5 441,373.2 434.9,371.5 427.2,373.1 415,373.6 402.8,372.7 392.4,372.6 384.3,374.8 376.9,374.9 369.4,375 361.9,375.8 352.7,377.5 343.6,376 335.9,371.5 331.4,365.6 329.8,358 331.4,348.9 334.5,341.4Z" fill="url(#g4)"/>
<path d="M357.4,384.7 366.4,382 379.5,382.2 394.2,383.3 399.1,386.4 401,395.1 397.1,404.6 391.2,411.3 381,412 369.3,412.6 360.4,408.2 356,401 356,390.7Z" fill="url(#g4b)"/>
<path d="M357.4,421.5 366.7,424.6 377.4,426.3 386.2,423.6 394.7,420.6 400.1,406.7 407.5,414.3 413.3,424.6 419.4,433.5 420.9,441 419.5,448.3 413.8,453.3 404.4,450.4 395.1,448.2 384.2,449.3 375,446.7 371.3,445.3 365.2,436.4 360.6,427.5Z" fill="#3050aa"/>
<path d="M334.1,418.9 341.5,418.3 348.7,423.7 354.3,432.6 358.6,441 361.9,449.8 364,460.9 356.5,459.9 347.3,452 338.7,441.2 336,436.6 332.7,426.4Z" fill="#3050aa"/>
<path d="M377.2,458.8 384.7,456.4 394.8,453.8 402.1,456.3 404,460.7 396.5,463.2 386.5,463 379.1,462.4Z" fill="#3050aa"/>
<path d="M435.7,397.5 441.5,395.1 445.2,398.9 445.6,406.3 444.1,417.7 441.4,427.9 437.1,434 431.3,434.8 427.7,427.9 424.3,420.6 419.8,414.9 421.3,409.1 427.1,405 431.4,400.6Z" fill="#3050aa"/>
</g>
<g filter="url(#fX)">
<path d="M339,335.4 346.7,332.4 354.3,330.2 361.9,331.1 367.9,326.6 373.9,322.8 381.4,325.2 388.7,325.2 396.9,324.4 407.5,325 415,327.9 422.6,332.4 428.6,339.9 433.2,348.9 439.4,358 444,364 444.8,368.5 441,373.2 434.9,371.5 427.2,373.1 415,373.6 402.8,372.7 392.4,372.6 384.3,374.8 376.9,374.9 369.4,375 361.9,375.8 352.7,377.5 343.6,376 335.9,371.5 331.4,365.6 329.8,358 331.4,348.9 334.5,341.4Z" fill="url(#g4s)"/>
<path d="M386,372.2 439,371.2 435,378 419.1,380.6 400.9,380.6 386,378Z" fill="#ea8a3a"/>
<path d="M357.4,421.5 366.7,424.6 377.4,426.3 386.2,423.6 394.7,420.6 400.1,406.7 407.5,414.3 413.3,424.6 419.4,433.5 420.9,441 419.5,448.3 413.8,453.3 404.4,450.4 395.1,448.2 384.2,449.3 375,446.7 371.3,445.3 365.2,436.4 360.6,427.5Z" fill="#6888d0"/>
<path d="M334.1,418.9 341.5,418.3 348.7,423.7 354.3,432.6 358.6,441 361.9,449.8 364,460.9 356.5,459.9 347.3,452 338.7,441.2 336,436.6 332.7,426.4Z" fill="#6888d0"/>
<path d="M377.2,458.8 384.7,456.4 394.8,453.8 402.1,456.3 404,460.7 396.5,463.2 386.5,463 379.1,462.4Z" fill="#6888d0"/>
<path d="M435.7,397.5 441.5,395.1 445.2,398.9 445.6,406.3 444.1,417.7 441.4,427.9 437.1,434 431.3,434.8 427.7,427.9 424.3,420.6 419.8,414.9 421.3,409.1 427.1,405 431.4,400.6Z" fill="#6888d0"/>
<path d="M409,400.8 418,395 429.2,390.1 431.1,392.4 423,399.7 412.6,406.2 407.9,404.5Z" fill="#f2c040"/>
<path d="M319.8,392.6 324.1,390.5 328.3,392.7 329.1,398.5 325.8,402 321.6,400.2Z" fill="#f2c040"/>
</g>
<path d="M282.6,283.1V501.5" stroke="#b4b4b4" stroke-width="1" fill="none"/>
<path d="M279.6,283.1H481.4 M279.6,501.5H481.4" stroke="#8a8a8a" stroke-width="1.3" fill="none"/>
<path d="M279.6,319.5H282.6M279.6,355.9H282.6M279.6,392.3H282.6M279.6,428.7H282.6M279.6,465.1H282.6M289.6,501.5V504M321.6,501.5V504M353.5,501.5V504M385.5,501.5V504M417.5,501.5V504M449.4,501.5V504" stroke="#999" stroke-width="0.8" fill="none"/>
<rect x="481.4" y="283.1" width="5.3" height="218.9" fill="url(#cbar)"/>
<text x="489" y="285.1" font-size="5.8" fill="#222">147.7</text>
<path d="M486.7,283.1H488.2" stroke="#333" stroke-width="0.6"/>
<text x="489" y="339.8" font-size="5.8" fill="#222">50.11</text>
<path d="M486.7,337.8H488.2" stroke="#333" stroke-width="0.6"/>
<text x="489" y="394.6" font-size="5.8" fill="#222">16.71</text>
<path d="M486.7,392.6H488.2" stroke="#333" stroke-width="0.6"/>
<text x="489" y="449.3" font-size="5.8" fill="#222">4.728</text>
<path d="M486.7,447.3H488.2" stroke="#333" stroke-width="0.6"/>
<text x="489" y="504" font-size="5.8" fill="#222">−1.19</text>
<path d="M486.7,502H488.2" stroke="#333" stroke-width="0.6"/>
<text x="293.6" y="322.5" font-size="21">CD4</text>
<g filter="url(#fH)">
<path d="M96.3,565.4 103.9,561.8 111.5,561.1 119.1,562.7 125.1,561.3 128,556.7 133.9,552.2 138.5,558.3 145.9,562.9 154.9,559.7 163.9,561.1 170.2,565.6 174.1,571.4 177,579.2 179.5,588 181,596.8 181.6,606.1 180.7,613.7 177.2,619.7 174.7,621.3 170.1,619.7 162.5,615 154.8,608.8 147.3,607.2 138.5,605.5 131.2,603.3 123.8,604.3 116.2,605.9 107,607.6 97.8,604.6 91.8,598.6 89.5,591.1 90.2,582 93.3,573Z" fill="#4064b0" stroke="#4064b0" stroke-width="4" stroke-linejoin="round"/>
<path d="M111.8,575.6 122.1,570 132.5,569.9 136.1,580.3 135.3,596.3 126.8,600 115.6,597.2 111,587.8Z" fill="#5e94b8" stroke="#5e94b8" stroke-width="4" stroke-linejoin="round"/>
<path d="M159,606.3 170.3,604 181.2,604.5 181,612.7 175.6,618.1 166.7,615.3Z" fill="#80aaa0" stroke="#80aaa0" stroke-width="4" stroke-linejoin="round"/>
<path d="M126.9,556.4 131.3,552.4 134.9,551 135.6,554.9 134,558 138,560.8 141.2,565.4 137.6,569.1 131.3,568 126.9,562.6Z" fill="#c42a26" stroke="#c42a26" stroke-width="4" stroke-linejoin="round"/>
<path d="M116.2,614.8 126.6,612.8 138.2,612.8 147,614.9 151.4,620.8 152.8,625.1 149.8,629.5 145.4,638.2 141.1,644.1 132.3,645.5 123.6,642.7 116.3,638.3 111.8,631.1 111,622.2Z" fill="url(#g5)" stroke="url(#g5)" stroke-width="4" stroke-linejoin="round"/>
<path d="M111.7,640.9 119.4,645.5 131.7,651.7 142.1,652 152.2,649.1 159.6,642.9 165.6,642.7 168.4,648.7 172.8,657.5 177.5,666.4 179.1,673.9 180.3,679.5 176.5,679.9 167,681.6 161.5,692.9 155.9,683.2 148.6,679.4 139.4,677.7 132.1,672.3 130.2,666.3 121,657.5 113.2,648.5Z" fill="#3e60b0" stroke="#3e60b0" stroke-width="4" stroke-linejoin="round"/>
<path d="M94.3,648.9 100.3,650.5 106.3,656.8 112.9,665.5 119.1,673.8 124.2,683.4 122.9,689.2 117.2,687.2 108,681.3 101.2,673.9 97.5,668.1 94.3,660.6 93,656.5Z" fill="#5a8cc8" stroke="#5a8cc8" stroke-width="4" stroke-linejoin="round"/>
<path d="M171.4,621.9 179.7,623 185.1,628.5 180.5,639.1 177.9,647 173.4,642.1 171,632.2Z" fill="#90b878" stroke="#90b878" stroke-width="4" stroke-linejoin="round"/>
<path d="M190.8,624.5 198.2,622.2 202.5,627.3 203.7,636.3 202.2,647.7 199.5,656.4 195.2,662.5 189.3,662.5 185,656.4 180.9,649.1 177.9,643.4 180.9,636.3 185.1,630.5Z" fill="#5a84bc" stroke="#5a84bc" stroke-width="4" stroke-linejoin="round"/>
<path d="M81.6,616.8 86.9,615.5 90.2,619.6 89.4,627.2 85.1,630 81.8,625.4Z" fill="#98b070" stroke="#98b070" stroke-width="4" stroke-linejoin="round"/>
</g>
<g filter="url(#fV)">
<path d="M166.4,558.9 176.2,563 183.8,573 187,585.2 189.4,599.2 187.7,613 182.9,619 180,604 178,585 172.4,568.9Z" fill="#3050aa"/>
<path d="M95.3,610.9 107.6,612.9 109.1,625.4 109.4,639.2 100.1,646 94.5,639.2 92.9,625.3Z" fill="#3050aa"/>
</g>
<g filter="url(#fS)">
<path d="M94.3,648.9 100.3,650.5 106.3,656.8 112.9,665.5 119.1,673.8 124.2,683.4 122.9,689.2 117.2,687.2 108,681.3 101.2,673.9 97.5,668.1 94.3,660.6 93,656.5Z" fill="#5a8cc8"/>
<path d="M171.4,621.9 179.7,623 185.1,628.5 180.5,639.1 177.9,647 173.4,642.1 171,632.2Z" fill="#90b878"/>
<path d="M81.6,616.8 86.9,615.5 90.2,619.6 89.4,627.2 85.1,630 81.8,625.4Z" fill="#98b070"/>
</g>
<g filter="url(#fD)">
<path d="M96.3,565.4 103.9,561.8 111.5,561.1 119.1,562.7 125.1,561.3 128,556.7 133.9,552.2 138.5,558.3 145.9,562.9 154.9,559.7 163.9,561.1 170.2,565.6 174.1,571.4 177,579.2 179.5,588 181,596.8 181.6,606.1 180.7,613.7 177.2,619.7 174.7,621.3 170.1,619.7 162.5,615 154.8,608.8 147.3,607.2 138.5,605.5 131.2,603.3 123.8,604.3 116.2,605.9 107,607.6 97.8,604.6 91.8,598.6 89.5,591.1 90.2,582 93.3,573Z" fill="#4064b0"/>
<path d="M111.8,575.6 122.1,570 132.5,569.9 136.1,580.3 135.3,596.3 126.8,600 115.6,597.2 111,587.8Z" fill="#5e94b8"/>
<path d="M159,606.3 170.3,604 181.2,604.5 181,612.7 175.6,618.1 166.7,615.3Z" fill="#80aaa0"/>
<path d="M126.9,556.4 131.3,552.4 134.9,551 135.6,554.9 134,558 138,560.8 141.2,565.4 137.6,569.1 131.3,568 126.9,562.6Z" fill="#c42a26"/>
<path d="M116.2,614.8 126.6,612.8 138.2,612.8 147,614.9 151.4,620.8 152.8,625.1 149.8,629.5 145.4,638.2 141.1,644.1 132.3,645.5 123.6,642.7 116.3,638.3 111.8,631.1 111,622.2Z" fill="url(#g5)"/>
<path d="M111.7,640.9 119.4,645.5 131.7,651.7 142.1,652 152.2,649.1 159.6,642.9 165.6,642.7 168.4,648.7 172.8,657.5 177.5,666.4 179.1,673.9 180.3,679.5 176.5,679.9 167,681.6 161.5,692.9 155.9,683.2 148.6,679.4 139.4,677.7 132.1,672.3 130.2,666.3 121,657.5 113.2,648.5Z" fill="#3e60b0"/>
<path d="M190.8,624.5 198.2,622.2 202.5,627.3 203.7,636.3 202.2,647.7 199.5,656.4 195.2,662.5 189.3,662.5 185,656.4 180.9,649.1 177.9,643.4 180.9,636.3 185.1,630.5Z" fill="#5a84bc"/>
</g>
<g filter="url(#fX)">
<path d="M96.3,565.4 103.9,561.8 111.5,561.1 119.1,562.7 125.1,561.3 128,556.7 133.9,552.2 138.5,558.3 145.9,562.9 154.9,559.7 163.9,561.1 170.2,565.6 174.1,571.4 177,579.2 179.5,588 181,596.8 181.6,606.1 180.7,613.7 177.2,619.7 174.7,621.3 170.1,619.7 162.5,615 154.8,608.8 147.3,607.2 138.5,605.5 131.2,603.3 123.8,604.3 116.2,605.9 107,607.6 97.8,604.6 91.8,598.6 89.5,591.1 90.2,582 93.3,573Z" fill="#78b4d4"/>
<path d="M111.8,575.6 122.1,570 132.5,569.9 136.1,580.3 135.3,596.3 126.8,600 115.6,597.2 111,587.8Z" fill="#a8c868"/>
<path d="M126.9,556.4 131.3,552.4 134.9,551 135.6,554.9 134,558 138,560.8 141.2,565.4 137.6,569.1 131.3,568 126.9,562.6Z" fill="#e05a30"/>
<path d="M95.3,610.9 107.6,612.9 109.1,625.4 109.4,639.2 100.1,646 94.5,639.2 92.9,625.3Z" fill="#6888d0"/>
<path d="M116.2,614.8 126.6,612.8 138.2,612.8 147,614.9 151.4,620.8 152.8,625.1 149.8,629.5 145.4,638.2 141.1,644.1 132.3,645.5 123.6,642.7 116.3,638.3 111.8,631.1 111,622.2Z" fill="#a8d0b0"/>
<path d="M111.7,640.9 119.4,645.5 131.7,651.7 142.1,652 152.2,649.1 159.6,642.9 165.6,642.7 168.4,648.7 172.8,657.5 177.5,666.4 179.1,673.9 180.3,679.5 176.5,679.9 167,681.6 161.5,692.9 155.9,683.2 148.6,679.4 139.4,677.7 132.1,672.3 130.2,666.3 121,657.5 113.2,648.5Z" fill="#78acd8"/>
<path d="M190.8,624.5 198.2,622.2 202.5,627.3 203.7,636.3 202.2,647.7 199.5,656.4 195.2,662.5 189.3,662.5 185,656.4 180.9,649.1 177.9,643.4 180.9,636.3 185.1,630.5Z" fill="#90c0c0"/>
<path d="M81.6,616.8 86.9,615.5 90.2,619.6 89.4,627.2 85.1,630 81.8,625.4Z" fill="#c8c050"/>
</g>
<g filter="url(#fS)">
<path d="M135.2,561 139.9,558 141.3,575.7 140.9,597 137.1,599 135,580Z" fill="#c0d0ec"/>
</g>
<path d="M42.9,513V728.6" stroke="#b4b4b4" stroke-width="1" fill="none"/>
<path d="M39.9,513H237.9 M39.9,728.6H237.9" stroke="#8a8a8a" stroke-width="1.3" fill="none"/>
<path d="M39.9,548.9H42.9M39.9,584.9H42.9M39.9,620.8H42.9M39.9,656.7H42.9M39.9,692.7H42.9M49.9,728.6V731.1M81.2,728.6V731.1M112.6,728.6V731.1M143.9,728.6V731.1M175.2,728.6V731.1M206.6,728.6V731.1" stroke="#999" stroke-width="0.8" fill="none"/>
<rect x="237.9" y="513" width="5.4" height="216" fill="url(#cbar)"/>
<text x="245" y="515" font-size="5.8" fill="#222">131.6</text>
<path d="M243.3,513H244.8" stroke="#333" stroke-width="0.6"/>
<text x="245" y="569" font-size="5.8" fill="#222">46.44</text>
<path d="M243.3,567H244.8" stroke="#333" stroke-width="0.6"/>
<text x="245" y="623" font-size="5.8" fill="#222">16.08</text>
<path d="M243.3,621H244.8" stroke="#333" stroke-width="0.6"/>
<text x="245" y="677" font-size="5.8" fill="#222">4.748</text>
<path d="M243.3,675H244.8" stroke="#333" stroke-width="0.6"/>
<text x="245" y="731" font-size="5.8" fill="#222">−0.97</text>
<path d="M243.3,729H244.8" stroke="#333" stroke-width="0.6"/>
<text x="54.7" y="548" font-size="20.5">FOXP3</text>
<g filter="url(#fH)">
<path d="M339.4,571.8 347.1,568.1 356.2,566 365.3,565.3 369.7,561.6 377.2,557.2 381.7,563.3 387.7,564.8 395.1,561.8 405.6,560 414.7,562.2 422.2,567.4 428.2,574.9 434.4,583.9 440.5,593 445.2,600.6 443.6,605.1 437.6,608.1 429.9,609.6 419.2,609.4 410,607.8 400.9,606.1 393.5,606 384.7,607.5 375.9,609.1 368.3,610.7 360.7,612.4 351.6,611 344,608.1 337.9,603.5 332.5,597.5 331.8,590 334.8,580.9Z" fill="#3c5eb0" stroke="#3c5eb0" stroke-width="4" stroke-linejoin="round"/>
<path d="M369.9,562.4 372.5,557.9 376.9,556 378.7,558.9 376,562 380.1,563.4 384.1,567.7 383.3,572.3 377.8,574 372.4,573.1 368.9,568.6Z" fill="#c42a26" stroke="#c42a26" stroke-width="4" stroke-linejoin="round"/>
<path d="M357.7,619.8 366.6,617.1 378.1,617.1 386.9,619.8 391.3,628.6 388.3,638.8 381,646 370.9,647.5 362.1,644.6 357.8,637.3 356.4,627.1Z" fill="#5a88c4" stroke="#5a88c4" stroke-width="4" stroke-linejoin="round"/>
<path d="M359.4,650.4 365.6,656.4 374.8,659.4 385.3,656.9 392.2,649.5 395.2,638.7 402.7,638.6 407,644.6 412.9,653.5 419,665.3 420.6,674.2 421.4,678 413.9,683.5 404.4,679.6 395.2,677.5 386.1,677.6 378.8,675.8 369.5,668.5 367.2,666.7 361,657.9Z" fill="#3050aa" stroke="#3050aa" stroke-width="4" stroke-linejoin="round"/>
<path d="M379.1,688.1 386.6,684.8 394.9,683.2 402.1,686.4 402.1,691.6 393.2,692 384.7,691.5Z" fill="#5070b8" stroke="#5070b8" stroke-width="4" stroke-linejoin="round"/>
<path d="M335.9,647.7 341.8,648.6 349.2,655.6 356,664.3 362.2,674.2 365.8,683.3 365.9,691.1 358.4,687.2 349.2,679.4 342.4,672.2 338.7,665.3 336.3,664.1 334.5,655.3Z" fill="#5288c4" stroke="#5288c4" stroke-width="4" stroke-linejoin="round"/>
<path d="M435.3,627.9 442.7,626.3 446.2,630.7 446.7,641.1 443.8,652.5 439.7,661.3 433.8,665.9 429.5,661.3 425.3,652.4 421,648.2 422.5,641.1 426.9,636.9 431,631Z" fill="#3c64b4" stroke="#3c64b4" stroke-width="4" stroke-linejoin="round"/>
<path d="M424,625.7 429,622 430.5,623.5 425,627.5Z" fill="#d23a30" stroke="#d23a30" stroke-width="4" stroke-linejoin="round"/>
<path d="M321.7,620.7 328.7,620 331,625.1 329.6,631.1 323.5,631.2Z" fill="#a8c4d8" stroke="#a8c4d8" stroke-width="4" stroke-linejoin="round"/>
</g>
<g filter="url(#fV)">
<path d="M336,608.2 439,606.2 429,615 399,617 361,619.8 341,627.7 331,619.9Z" fill="#5a84c0"/>
<path d="M328.6,612.8 344.7,616 351,630 349.5,644.2 338.2,644 330.9,634.6Z" fill="#3050aa"/>
</g>
<g filter="url(#fS)">
<path d="M357.7,619.8 366.6,617.1 378.1,617.1 386.9,619.8 391.3,628.6 388.3,638.8 381,646 370.9,647.5 362.1,644.6 357.8,637.3 356.4,627.1Z" fill="#5a88c4"/>
<path d="M335.9,647.7 341.8,648.6 349.2,655.6 356,664.3 362.2,674.2 365.8,683.3 365.9,691.1 358.4,687.2 349.2,679.4 342.4,672.2 338.7,665.3 336.3,664.1 334.5,655.3Z" fill="#5288c4"/>
<path d="M424,625.7 429,622 430.5,623.5 425,627.5Z" fill="#d23a30"/>
<path d="M321.7,620.7 328.7,620 331,625.1 329.6,631.1 323.5,631.2Z" fill="#a8c4d8"/>
</g>
<g filter="url(#fD)">
<path d="M339.4,571.8 347.1,568.1 356.2,566 365.3,565.3 369.7,561.6 377.2,557.2 381.7,563.3 387.7,564.8 395.1,561.8 405.6,560 414.7,562.2 422.2,567.4 428.2,574.9 434.4,583.9 440.5,593 445.2,600.6 443.6,605.1 437.6,608.1 429.9,609.6 419.2,609.4 410,607.8 400.9,606.1 393.5,606 384.7,607.5 375.9,609.1 368.3,610.7 360.7,612.4 351.6,611 344,608.1 337.9,603.5 332.5,597.5 331.8,590 334.8,580.9Z" fill="#3c5eb0"/>
<path d="M369.9,562.4 372.5,557.9 376.9,556 378.7,558.9 376,562 380.1,563.4 384.1,567.7 383.3,572.3 377.8,574 372.4,573.1 368.9,568.6Z" fill="#c42a26"/>
<path d="M359.4,650.4 365.6,656.4 374.8,659.4 385.3,656.9 392.2,649.5 395.2,638.7 402.7,638.6 407,644.6 412.9,653.5 419,665.3 420.6,674.2 421.4,678 413.9,683.5 404.4,679.6 395.2,677.5 386.1,677.6 378.8,675.8 369.5,668.5 367.2,666.7 361,657.9Z" fill="#3050aa"/>
<path d="M379.1,688.1 386.6,684.8 394.9,683.2 402.1,686.4 402.1,691.6 393.2,692 384.7,691.5Z" fill="#5070b8"/>
<path d="M435.3,627.9 442.7,626.3 446.2,630.7 446.7,641.1 443.8,652.5 439.7,661.3 433.8,665.9 429.5,661.3 425.3,652.4 421,648.2 422.5,641.1 426.9,636.9 431,631Z" fill="#3c64b4"/>
</g>
<g filter="url(#fX)">
<path d="M339.4,571.8 347.1,568.1 356.2,566 365.3,565.3 369.7,561.6 377.2,557.2 381.7,563.3 387.7,564.8 395.1,561.8 405.6,560 414.7,562.2 422.2,567.4 428.2,574.9 434.4,583.9 440.5,593 445.2,600.6 443.6,605.1 437.6,608.1 429.9,609.6 419.2,609.4 410,607.8 400.9,606.1 393.5,606 384.7,607.5 375.9,609.1 368.3,610.7 360.7,612.4 351.6,611 344,608.1 337.9,603.5 332.5,597.5 331.8,590 334.8,580.9Z" fill="#78b4d4"/>
<path d="M369.9,562.4 372.5,557.9 376.9,556 378.7,558.9 376,562 380.1,563.4 384.1,567.7 383.3,572.3 377.8,574 372.4,573.1 368.9,568.6Z" fill="#e05a30"/>
<path d="M328.6,612.8 344.7,616 351,630 349.5,644.2 338.2,644 330.9,634.6Z" fill="#6888d0"/>
<path d="M359.4,650.4 365.6,656.4 374.8,659.4 385.3,656.9 392.2,649.5 395.2,638.7 402.7,638.6 407,644.6 412.9,653.5 419,665.3 420.6,674.2 421.4,678 413.9,683.5 404.4,679.6 395.2,677.5 386.1,677.6 378.8,675.8 369.5,668.5 367.2,666.7 361,657.9Z" fill="#6888d0"/>
<path d="M435.3,627.9 442.7,626.3 446.2,630.7 446.7,641.1 443.8,652.5 439.7,661.3 433.8,665.9 429.5,661.3 425.3,652.4 421,648.2 422.5,641.1 426.9,636.9 431,631Z" fill="#80b8d8"/>
</g>
<path d="M286.2,521V727.5" stroke="#b4b4b4" stroke-width="1" fill="none"/>
<path d="M283.2,521H480.7 M283.2,727.5H480.7" stroke="#8a8a8a" stroke-width="1.3" fill="none"/>
<path d="M283.2,555.4H286.2M283.2,589.8H286.2M283.2,624.2H286.2M283.2,658.7H286.2M283.2,693.1H286.2M293.2,727.5V730M324.4,727.5V730M355.7,727.5V730M386.9,727.5V730M418.2,727.5V730M449.4,727.5V730" stroke="#999" stroke-width="0.8" fill="none"/>
<rect x="480.7" y="521" width="4.8" height="207.5" fill="url(#cbar)"/>
<text x="488" y="523" font-size="5.8" fill="#222">131.6</text>
<path d="M485.5,521H487" stroke="#333" stroke-width="0.6"/>
<text x="488" y="574.9" font-size="5.8" fill="#222">46.44</text>
<path d="M485.5,572.9H487" stroke="#333" stroke-width="0.6"/>
<text x="488" y="626.8" font-size="5.8" fill="#222">16.08</text>
<path d="M485.5,624.8H487" stroke="#333" stroke-width="0.6"/>
<text x="488" y="678.6" font-size="5.8" fill="#222">4.748</text>
<path d="M485.5,676.6H487" stroke="#333" stroke-width="0.6"/>
<text x="488" y="730.5" font-size="5.8" fill="#222">−0.97</text>
<path d="M485.5,728.5H487" stroke="#333" stroke-width="0.6"/>
<text x="294.3" y="547.4" font-size="20.5">FOXP3</text>
<g filter="url(#fH)">
<path d="M91.3,798.6 97.3,794.8 106.5,794.2 114.1,795 120.1,792.8 123,786.7 129,782.9 132,788.3 136.5,791.4 143.9,790 153,793.4 160.3,798.2 166.6,804 171,811.3 174,820.1 175.5,828.8 177.1,837.7 179.1,845.5 182.1,851.5 181.9,857.5 174.3,863.5 165.2,865 167.3,857.3 165.1,849.7 149.9,845 140.9,838.7 133.6,837.1 126.3,837.3 120.3,838.9 114.3,840.6 106.6,842.1 99,842.2 91.3,837.8 86.8,831.7 84.5,824.2 85.2,815.1 88.2,806.1Z" fill="url(#g7a)" stroke="url(#g7a)" stroke-width="4" stroke-linejoin="round"/>
<path d="M81.4,848.9 89.7,848 91,860 89.7,871 84.2,871 81,860Z" fill="#2a46a4" stroke="#2a46a4" stroke-width="4" stroke-linejoin="round"/>
<path d="M109.6,850.9 117.1,847.3 128.8,846.8 139,848.1 146.5,850.9 150.9,856.8 147.8,865.7 143.4,874.4 139.1,880.3 130.3,881.7 121.6,878.7 112.7,873 106.8,865.7 105.2,858.3Z" fill="#2a46a4" stroke="#2a46a4" stroke-width="4" stroke-linejoin="round"/>
<path d="M105.1,875.5 112.8,880.1 122.1,884.7 134.2,886.5 142.9,882.2 150.2,879.1 157.6,875.9 163.5,878.8 165,884.8 169.4,892.1 174,899.5 175.5,907 176.4,911.6 172.7,915.7 165.1,917.4 157.7,926.8 154,930.5 150.2,922.8 142.9,915.2 135.6,911.5 128.2,904.3 122.2,899.5 114.5,890.6 106.7,881.6Z" fill="#2a46a4" stroke="#2a46a4" stroke-width="4" stroke-linejoin="round"/>
<path d="M89.4,886.6 95.4,886.7 101.4,892.9 106.8,900.5 112.5,908.5 116.9,914.5 120.8,921.2 119,928.8 111.5,922.9 102.4,915.2 95.6,906.5 89.8,902.9 88.1,894.1Z" fill="#2a46a4" stroke="#2a46a4" stroke-width="4" stroke-linejoin="round"/>
<path d="M187.3,859.1 193.2,857.5 197.6,862 200.4,869.4 198.6,879.5 197.4,888.1 196,895.6 191.7,898.6 185.9,897.1 180.1,891 175.8,885.3 171.4,879.5 171.4,875.2 177.3,871 183,865.2Z" fill="url(#g7)" stroke="url(#g7)" stroke-width="4" stroke-linejoin="round"/>
<path d="M75,851 77.8,850 80,855 77,858 75,857Z" fill="#d8b850" stroke="#d8b850" stroke-width="4" stroke-linejoin="round"/>
</g>
<g filter="url(#fV)">
<path d="M160.5,792.9 170.2,799 176.9,808 180.2,818.6 182.3,829.2 184.6,841.1 186.7,851.1 182.8,855 178.8,839 176,822 170.4,808.9 160.6,798.8Z" fill="#2a46a4"/>
<path d="M90.4,845.9 103.7,848.9 105.1,862.3 103.6,877.1 95.2,882 90.7,871.3Z" fill="#2a46a4"/>
</g>
<g filter="url(#fS)">
<path d="M81.4,848.9 89.7,848 91,860 89.7,871 84.2,871 81,860Z" fill="#2a46a4"/>
<path d="M187.3,859.1 193.2,857.5 197.6,862 200.4,869.4 198.6,879.5 197.4,888.1 196,895.6 191.7,898.6 185.9,897.1 180.1,891 175.8,885.3 171.4,879.5 171.4,875.2 177.3,871 183,865.2Z" fill="url(#g7)"/>
<path d="M75,851 77.8,850 80,855 77,858 75,857Z" fill="#d8b850"/>
</g>
<g filter="url(#fD)">
<path d="M91.3,798.6 97.3,794.8 106.5,794.2 114.1,795 120.1,792.8 123,786.7 129,782.9 132,788.3 136.5,791.4 143.9,790 153,793.4 160.3,798.2 166.6,804 171,811.3 174,820.1 175.5,828.8 177.1,837.7 179.1,845.5 182.1,851.5 181.9,857.5 174.3,863.5 165.2,865 167.3,857.3 165.1,849.7 149.9,845 140.9,838.7 133.6,837.1 126.3,837.3 120.3,838.9 114.3,840.6 106.6,842.1 99,842.2 91.3,837.8 86.8,831.7 84.5,824.2 85.2,815.1 88.2,806.1Z" fill="url(#g7a)"/>
<path d="M109.6,850.9 117.1,847.3 128.8,846.8 139,848.1 146.5,850.9 150.9,856.8 147.8,865.7 143.4,874.4 139.1,880.3 130.3,881.7 121.6,878.7 112.7,873 106.8,865.7 105.2,858.3Z" fill="#2a46a4"/>
<path d="M105.1,875.5 112.8,880.1 122.1,884.7 134.2,886.5 142.9,882.2 150.2,879.1 157.6,875.9 163.5,878.8 165,884.8 169.4,892.1 174,899.5 175.5,907 176.4,911.6 172.7,915.7 165.1,917.4 157.7,926.8 154,930.5 150.2,922.8 142.9,915.2 135.6,911.5 128.2,904.3 122.2,899.5 114.5,890.6 106.7,881.6Z" fill="#2a46a4"/>
<path d="M89.4,886.6 95.4,886.7 101.4,892.9 106.8,900.5 112.5,908.5 116.9,914.5 120.8,921.2 119,928.8 111.5,922.9 102.4,915.2 95.6,906.5 89.8,902.9 88.1,894.1Z" fill="#2a46a4"/>
</g>
<g filter="url(#fX)">
<path d="M90.4,845.9 103.7,848.9 105.1,862.3 103.6,877.1 95.2,882 90.7,871.3Z" fill="#4462b8"/>
<path d="M81.4,848.9 89.7,848 91,860 89.7,871 84.2,871 81,860Z" fill="#4462b8"/>
<path d="M109.6,850.9 117.1,847.3 128.8,846.8 139,848.1 146.5,850.9 150.9,856.8 147.8,865.7 143.4,874.4 139.1,880.3 130.3,881.7 121.6,878.7 112.7,873 106.8,865.7 105.2,858.3Z" fill="#4462b8"/>
<path d="M105.1,875.5 112.8,880.1 122.1,884.7 134.2,886.5 142.9,882.2 150.2,879.1 157.6,875.9 163.5,878.8 165,884.8 169.4,892.1 174,899.5 175.5,907 176.4,911.6 172.7,915.7 165.1,917.4 157.7,926.8 154,930.5 150.2,922.8 142.9,915.2 135.6,911.5 128.2,904.3 122.2,899.5 114.5,890.6 106.7,881.6Z" fill="#4462b8"/>
<path d="M89.4,886.6 95.4,886.7 101.4,892.9 106.8,900.5 112.5,908.5 116.9,914.5 120.8,921.2 119,928.8 111.5,922.9 102.4,915.2 95.6,906.5 89.8,902.9 88.1,894.1Z" fill="#4462b8"/>
<path d="M187.3,859.1 193.2,857.5 197.6,862 200.4,869.4 198.6,879.5 197.4,888.1 196,895.6 191.7,898.6 185.9,897.1 180.1,891 175.8,885.3 171.4,879.5 171.4,875.2 177.3,871 183,865.2Z" fill="url(#g7s)"/>
</g>
<g filter="url(#fS)">
<path d="M118.7,800.7 124.1,794 130.5,797.9 131,809.7 128.7,822 122.2,820 118.9,809.7Z" fill="#8c9ed8"/>
</g>
<path d="M36.9,743.6V968" stroke="#b4b4b4" stroke-width="1" fill="none"/>
<path d="M33.9,743.6H235.5 M33.9,968H235.5" stroke="#8a8a8a" stroke-width="1.3" fill="none"/>
<path d="M33.9,781H36.9M33.9,818.4H36.9M33.9,855.8H36.9M33.9,893.2H36.9M33.9,930.6H36.9M43.9,968V970.5M75.8,968V970.5M107.8,968V970.5M139.7,968V970.5M171.6,968V970.5M203.6,968V970.5" stroke="#999" stroke-width="0.8" fill="none"/>
<rect x="235.5" y="743" width="5.2" height="225.8" fill="url(#cbar)"/>
<text x="243.8" y="745" font-size="5.8" fill="#222">201.3</text>
<path d="M240.7,743H242.2" stroke="#333" stroke-width="0.6"/>
<text x="243.8" y="801.5" font-size="5.8" fill="#222">63.12</text>
<path d="M240.7,799.5H242.2" stroke="#333" stroke-width="0.6"/>
<text x="243.8" y="857.9" font-size="5.8" fill="#222">19.53</text>
<path d="M240.7,855.9H242.2" stroke="#333" stroke-width="0.6"/>
<text x="243.8" y="914.3" font-size="5.8" fill="#222">5.227</text>
<path d="M240.7,912.3H242.2" stroke="#333" stroke-width="0.6"/>
<text x="243.8" y="970.8" font-size="5.8" fill="#222">−1.23</text>
<path d="M240.7,968.8H242.2" stroke="#333" stroke-width="0.6"/>
<text x="49.7" y="779.9" font-size="21">CD20</text>
<g filter="url(#fH)">
<path d="M334.8,804.9 340.9,800.4 348.6,797.4 356.2,795.2 363.8,793.9 369.7,790.1 375.7,787.9 378.7,793.3 384.6,792 392,791 402.5,790 411.6,791.5 419.2,795.9 425.3,801.9 429.8,809.4 435.9,818.5 440.5,826.1 444.4,832.1 443.6,836.6 440.6,838.8 434.5,839.6 425.3,838.1 410,836.3 394.9,837.6 384.6,838.2 375.8,839.1 368.3,840.7 360.7,843.1 353.1,844 345.4,842.6 337.8,839.6 331.7,835.1 328.7,829 328.7,821.4 331.8,812.4Z" fill="#2a46a4" stroke="#2a46a4" stroke-width="4" stroke-linejoin="round"/>
<path d="M326.4,843.9 339.7,846 344,860.2 341.6,875.1 333.1,879 327.7,869.3Z" fill="#2a46a4" stroke="#2a46a4" stroke-width="4" stroke-linejoin="round"/>
<path d="M357.8,851.3 365.3,847.6 375.6,847.2 385.8,848.6 394.5,852.8 401,858.2 403,865.9 397.6,873.5 391.5,871.7 384.2,876 374.1,877.5 363.9,874.8 356.4,867.5 354.8,858.6Z" fill="#2a46a4" stroke="#2a46a4" stroke-width="4" stroke-linejoin="round"/>
<path d="M334.4,885.4 340.4,885.5 347.8,890.2 354.8,899.3 360.5,907.6 363.8,916.3 365.7,920.5 364,928 354.7,925.9 345.7,918.2 338.7,909.3 334.8,901.8 333.1,892.9Z" fill="#2a46a4" stroke="#2a46a4" stroke-width="4" stroke-linejoin="round"/>
<path d="M359.5,886.5 367.2,891 377.9,892.6 388.3,890 396.7,884.1 399.7,880.9 395.4,871.8 402.8,870.2 410.2,877.7 414.5,886.7 419,896.9 420.6,905.9 421.4,909.6 419.6,914.8 414,920.4 406.4,916.5 397.1,914.4 386.2,914.5 376.9,912.8 369.4,905.5 368.7,902.9 362.5,893.9Z" fill="#2a46a4" stroke="#2a46a4" stroke-width="4" stroke-linejoin="round"/>
<path d="M377.2,925 384.7,922.6 393,920.1 400.3,921.6 402.1,926.8 396.5,930.2 386.4,930 379.1,928.5Z" fill="#4a64b4" stroke="#4a64b4" stroke-width="4" stroke-linejoin="round"/>
<path d="M410.2,867.5 420,861.5 430,857.5 426.7,863.4 420,869.8 411.6,871.7Z" fill="#2a46a4" stroke="#2a46a4" stroke-width="4" stroke-linejoin="round"/>
<path d="M432.4,864.1 438.3,861 444.1,862.4 446.2,868.4 445.2,878.7 443.8,888.6 441.1,896 436.8,900.5 431,900.5 428.1,894.5 425.4,887.1 421,884.4 422.5,878.7 426.8,871.6Z" fill="url(#g8)" stroke="url(#g8)" stroke-width="4" stroke-linejoin="round"/>
<path d="M320,854 323.6,853.9 325.5,858 322.1,860 320,859Z" fill="#d0c070" stroke="#d0c070" stroke-width="4" stroke-linejoin="round"/>
</g>
<g filter="url(#fV)">
<path d="M331,838.1 444,836.2 439,845 419,849.9 394.1,851.5 371,849.8 351,851.8 336,848Z" fill="#2a46a4"/>
<path d="M395.6,850.8 411.2,855.5 409.3,867.3 400.3,869 396,861.9Z" fill="#2a46a4"/>
</g>
<g filter="url(#fS)">
<path d="M326.4,843.9 339.7,846 344,860.2 341.6,875.1 333.1,879 327.7,869.3Z" fill="#2a46a4"/>
<path d="M432.4,864.1 438.3,861 444.1,862.4 446.2,868.4 445.2,878.7 443.8,888.6 441.1,896 436.8,900.5 431,900.5 428.1,894.5 425.4,887.1 421,884.4 422.5,878.7 426.8,871.6Z" fill="url(#g8)"/>
<path d="M320,854 323.6,853.9 325.5,858 322.1,860 320,859Z" fill="#d0c070"/>
</g>
<g filter="url(#fD)">
<path d="M334.8,804.9 340.9,800.4 348.6,797.4 356.2,795.2 363.8,793.9 369.7,790.1 375.7,787.9 378.7,793.3 384.6,792 392,791 402.5,790 411.6,791.5 419.2,795.9 425.3,801.9 429.8,809.4 435.9,818.5 440.5,826.1 444.4,832.1 443.6,836.6 440.6,838.8 434.5,839.6 425.3,838.1 410,836.3 394.9,837.6 384.6,838.2 375.8,839.1 368.3,840.7 360.7,843.1 353.1,844 345.4,842.6 337.8,839.6 331.7,835.1 328.7,829 328.7,821.4 331.8,812.4Z" fill="#2a46a4"/>
<path d="M357.8,851.3 365.3,847.6 375.6,847.2 385.8,848.6 394.5,852.8 401,858.2 403,865.9 397.6,873.5 391.5,871.7 384.2,876 374.1,877.5 363.9,874.8 356.4,867.5 354.8,858.6Z" fill="#2a46a4"/>
<path d="M334.4,885.4 340.4,885.5 347.8,890.2 354.8,899.3 360.5,907.6 363.8,916.3 365.7,920.5 364,928 354.7,925.9 345.7,918.2 338.7,909.3 334.8,901.8 333.1,892.9Z" fill="#2a46a4"/>
<path d="M359.5,886.5 367.2,891 377.9,892.6 388.3,890 396.7,884.1 399.7,880.9 395.4,871.8 402.8,870.2 410.2,877.7 414.5,886.7 419,896.9 420.6,905.9 421.4,909.6 419.6,914.8 414,920.4 406.4,916.5 397.1,914.4 386.2,914.5 376.9,912.8 369.4,905.5 368.7,902.9 362.5,893.9Z" fill="#2a46a4"/>
<path d="M377.2,925 384.7,922.6 393,920.1 400.3,921.6 402.1,926.8 396.5,930.2 386.4,930 379.1,928.5Z" fill="#4a64b4"/>
<path d="M410.2,867.5 420,861.5 430,857.5 426.7,863.4 420,869.8 411.6,871.7Z" fill="#2a46a4"/>
</g>
<g filter="url(#fX)">
<path d="M334.8,804.9 340.9,800.4 348.6,797.4 356.2,795.2 363.8,793.9 369.7,790.1 375.7,787.9 378.7,793.3 384.6,792 392,791 402.5,790 411.6,791.5 419.2,795.9 425.3,801.9 429.8,809.4 435.9,818.5 440.5,826.1 444.4,832.1 443.6,836.6 440.6,838.8 434.5,839.6 425.3,838.1 410,836.3 394.9,837.6 384.6,838.2 375.8,839.1 368.3,840.7 360.7,843.1 353.1,844 345.4,842.6 337.8,839.6 331.7,835.1 328.7,829 328.7,821.4 331.8,812.4Z" fill="#4462b8"/>
<path d="M331,838.1 444,836.2 439,845 419,849.9 394.1,851.5 371,849.8 351,851.8 336,848Z" fill="#4462b8"/>
<path d="M326.4,843.9 339.7,846 344,860.2 341.6,875.1 333.1,879 327.7,869.3Z" fill="#4462b8"/>
<path d="M395.6,850.8 411.2,855.5 409.3,867.3 400.3,869 396,861.9Z" fill="#4462b8"/>
<path d="M357.8,851.3 365.3,847.6 375.6,847.2 385.8,848.6 394.5,852.8 401,858.2 403,865.9 397.6,873.5 391.5,871.7 384.2,876 374.1,877.5 363.9,874.8 356.4,867.5 354.8,858.6Z" fill="#8098d0"/>
<path d="M334.4,885.4 340.4,885.5 347.8,890.2 354.8,899.3 360.5,907.6 363.8,916.3 365.7,920.5 364,928 354.7,925.9 345.7,918.2 338.7,909.3 334.8,901.8 333.1,892.9Z" fill="#4462b8"/>
<path d="M359.5,886.5 367.2,891 377.9,892.6 388.3,890 396.7,884.1 399.7,880.9 395.4,871.8 402.8,870.2 410.2,877.7 414.5,886.7 419,896.9 420.6,905.9 421.4,909.6 419.6,914.8 414,920.4 406.4,916.5 397.1,914.4 386.2,914.5 376.9,912.8 369.4,905.5 368.7,902.9 362.5,893.9Z" fill="#4462b8"/>
<path d="M410.2,867.5 420,861.5 430,857.5 426.7,863.4 420,869.8 411.6,871.7Z" fill="#4462b8"/>
<path d="M432.4,864.1 438.3,861 444.1,862.4 446.2,868.4 445.2,878.7 443.8,888.6 441.1,896 436.8,900.5 431,900.5 428.1,894.5 425.4,887.1 421,884.4 422.5,878.7 426.8,871.6Z" fill="url(#g8s)"/>
</g>
<g filter="url(#fS)">
<path d="M361.4,797.9 368,793 371.5,805.8 372.4,819.2 369.9,832 364.2,828 363,812.1Z" fill="#8c9ed8"/>
</g>
<path d="M282,748.6V968" stroke="#b4b4b4" stroke-width="1" fill="none"/>
<path d="M279,748.6H481 M279,968H481" stroke="#8a8a8a" stroke-width="1.3" fill="none"/>
<path d="M279,785.2H282M279,821.7H282M279,858.3H282M279,894.9H282M279,931.4H282M289,968V970.5M321,968V970.5M353,968V970.5M385,968V970.5M417,968V970.5M449,968V970.5" stroke="#999" stroke-width="0.8" fill="none"/>
<rect x="481" y="748.6" width="5.2" height="220.2" fill="url(#cbar)"/>
<text x="488.6" y="750.6" font-size="5.8" fill="#222">201.3</text>
<path d="M486.2,748.6H487.7" stroke="#333" stroke-width="0.6"/>
<text x="488.6" y="805.6" font-size="5.8" fill="#222">63.12</text>
<path d="M486.2,803.6H487.7" stroke="#333" stroke-width="0.6"/>
<text x="488.6" y="860.7" font-size="5.8" fill="#222">19.53</text>
<path d="M486.2,858.7H487.7" stroke="#333" stroke-width="0.6"/>
<text x="488.6" y="915.8" font-size="5.8" fill="#222">5.227</text>
<path d="M486.2,913.8H487.7" stroke="#333" stroke-width="0.6"/>
<text x="488.6" y="970.8" font-size="5.8" fill="#222">−1.23</text>
<path d="M486.2,968.8H487.7" stroke="#333" stroke-width="0.6"/>
<text x="293.2" y="786.5" font-size="21">CD20</text>
<text transform="translate(21.3,146) rotate(-90)" text-anchor="middle" font-size="15" dy="5.4">t-SNE2</text>
<text transform="translate(24.5,395.6) rotate(-90)" text-anchor="middle" font-size="15" dy="5.4">t-SNE2</text>
<text transform="translate(27,613.5) rotate(-90)" text-anchor="middle" font-size="15" dy="5.4">t-SNE2</text>
<text transform="translate(24.4,857.2) rotate(-90)" text-anchor="middle" font-size="15" dy="5.4">t-SNE2</text>
<text x="105.6" y="991.9" font-size="16">t-SNE1</text>
<text x="358.1" y="991.9" font-size="16">t-SNE1</text>
</svg></body></html>
